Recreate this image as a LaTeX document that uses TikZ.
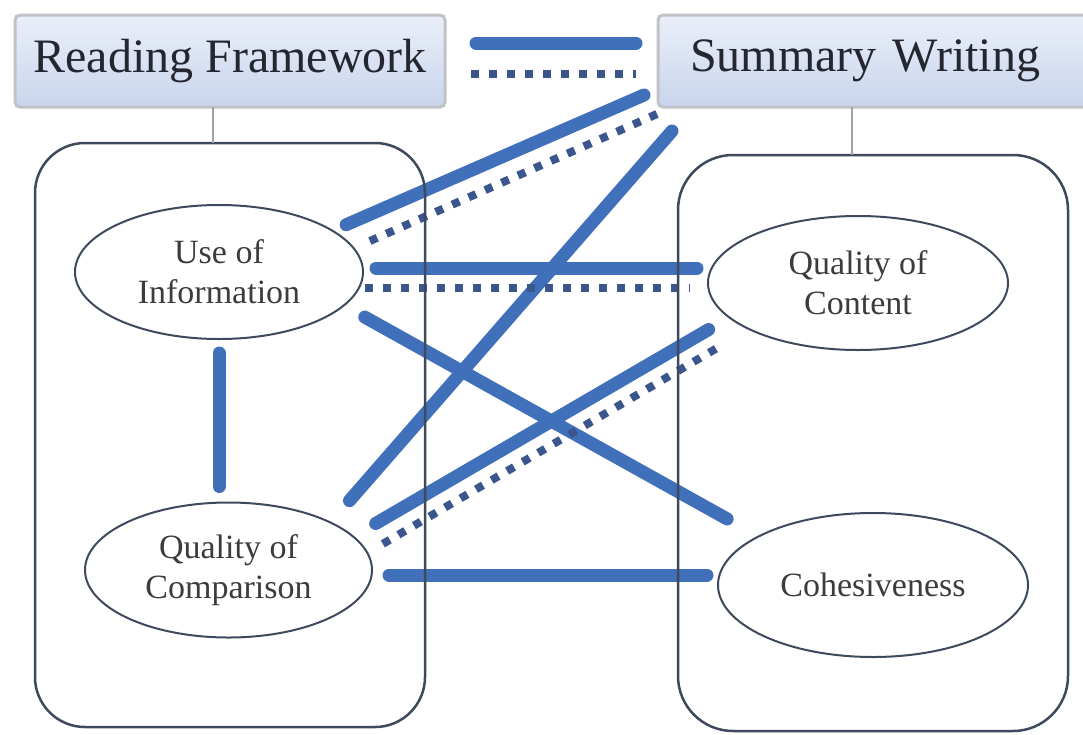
\documentclass[tikz,border=0pt]{standalone}
\usepackage{fontspec}
\setmainfont{Liberation Serif}
\usetikzlibrary{shapes.geometric}

\definecolor{linkblue}{RGB}{64,112,186}
\definecolor{dotblue}{RGB}{58,86,140}
\definecolor{frame}{RGB}{62,74,92}
\definecolor{headframe}{RGB}{192,194,200}
\definecolor{boxtop}{RGB}{234,239,249}
\definecolor{boxbot}{RGB}{201,213,237}
\definecolor{headtext}{RGB}{36,38,48}
\definecolor{itemtext}{RGB}{60,60,60}
\definecolor{stemgray}{RGB}{160,162,168}

% connectors sit underneath the group frames
\pgfdeclarelayer{links}
\pgfsetlayers{links,main}

\begin{document}
\begin{tikzpicture}[x=1pt,y=-1pt,
  headbox/.style={rectangle, rounded corners=5pt, draw=headframe, line width=3pt,
    top color=boxtop, bottom color=boxbot, minimum height=92pt, inner ysep=0pt,
    outer sep=0pt, font=\fontsize{48}{56}\selectfont, text=headtext},
  group/.style={rectangle, draw=frame, line width=2.5pt, minimum width=390pt, outer sep=0pt},
  item/.style={ellipse, draw=frame, line width=2pt, fill=white, inner sep=0pt, outer sep=0pt,
    align=center, font=\fontsize{34}{40}\selectfont, text=itemtext},
  solidlink/.style={draw=linkblue, line width=13pt, line cap=round},
  dotlink/.style={draw=dotblue, line width=8pt, dash pattern=on 8pt off 10pt},
  stem/.style={draw=stemgray, line width=1.6pt}]
\clip (0,0) rectangle (1083,734);

% headings
\node[headbox, minimum width=430pt] (rf) at (230,61) {Reading Framework};
\node[headbox, anchor=west, text width=400pt, align=left, inner xsep=32pt] (sw) at (658,61) {Summary Writing};

% group frames
\node[group, minimum height=584pt, rounded corners=50pt] (lgrp) at (230,435) {};
\node[group, minimum height=576pt, rounded corners=55pt] (rgrp) at (873,443) {};

% criteria
\node[item, minimum width=288pt, minimum height=134pt] (uoi) at (219,272) {Use of\\Information};
\node[item, minimum width=287pt, minimum height=135pt] (qcomp) at (228.5,570) {Quality of\\Comparison};
\node[item, minimum width=300pt, minimum height=134pt] (qcont) at (858,283) {Quality of\\Content};
\node[item, minimum width=310pt, minimum height=144pt] (coh) at (873,585) {Cohesiveness};

% stems from headings to their groups
\draw[stem] ([xshift=-17pt]rf.south) -- ([xshift=-17pt]lgrp.north);
\coordinate (swstem) at ([xshift=-21pt]rgrp.north);
\draw[stem] (swstem) -- (swstem |- sw.south);

\begin{pgfonlayer}{links}
\fill[white] (0,0) rectangle (1083,734);
% heading to heading
\draw[solidlink, shorten <=31pt, shorten >=22pt] ([yshift=18pt]rf.east) -- ([yshift=18pt]sw.west);
\draw[dotlink, shorten <=26pt, shorten >=22pt] ([yshift=-13pt]rf.east) -- ([yshift=-13pt]sw.west);
% Summary Writing to the reading criteria
\draw[solidlink, shorten >=15pt] ([xshift=-14pt,yshift=12pt]sw.south west) -- (uoi.20);
\draw[dotlink, shorten >=9pt] ([xshift=-1pt,yshift=-7pt]sw.south west) -- (uoi.10);
\draw[solidlink, shorten >=29pt] ([xshift=14pt,yshift=-24pt]sw.south west) -- (qcomp.25);
% Use of Information
\draw[solidlink, shorten <=13pt, shorten >=11pt] ([yshift=4pt]uoi.east) -- ([yshift=15pt]qcont.west);
\draw[dotlink, shorten <=2pt, shorten >=18pt] ([yshift=-16pt]uoi.east) -- ([yshift=-5pt]qcont.west);
\draw[solidlink, shorten <=24pt, shorten >=36pt] (uoi.-15) -- (coh.157);
\draw[solidlink, shorten <=14pt, shorten >=16pt] (uoi.south) -- (uoi.south |- qcomp.north);
% Quality of Comparison
\draw[solidlink, shorten <=26pt, shorten >=24pt] (qcomp.15) -- (qcont.195);
\draw[dotlink, shorten <=18pt, shorten >=33pt] (qcomp.7) -- (qcont.203);
\draw[solidlink, shorten <=17pt, shorten >=11pt] ([yshift=-5pt]qcomp.east) -- ([yshift=10pt]coh.west);
\end{pgfonlayer}
\end{tikzpicture}
\end{document}
